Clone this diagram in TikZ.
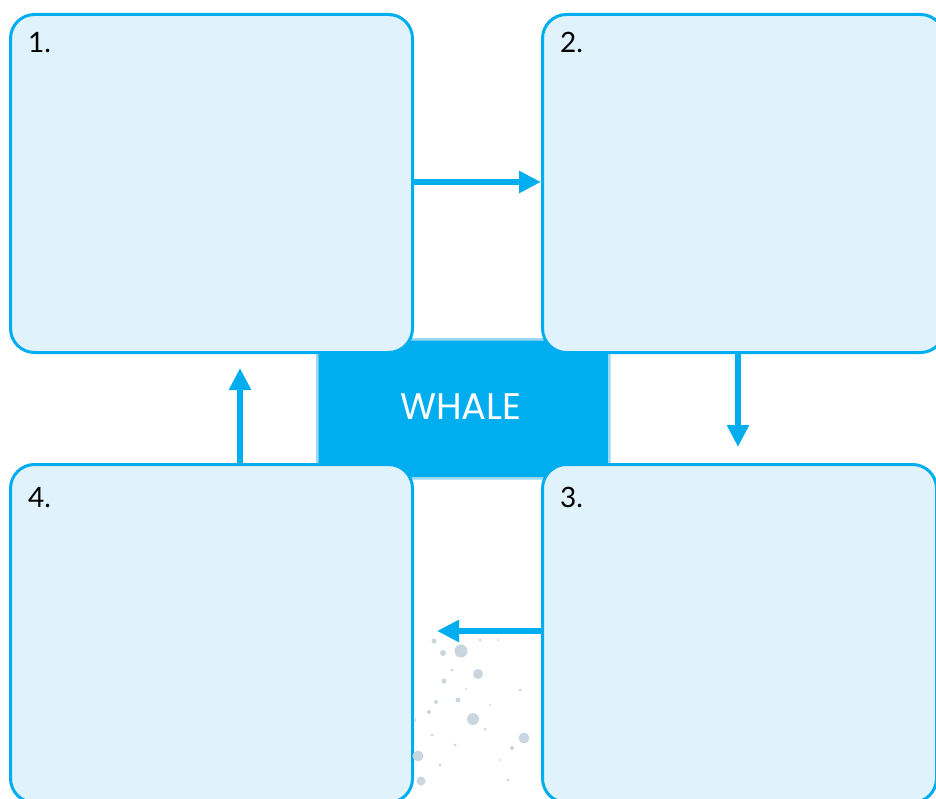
\documentclass[tikz,border=0pt]{standalone}
\usepackage{fontspec}
\setmainfont{Lato}
\newfontfamily\whalefont{Poppins}
\usetikzlibrary{arrows.meta}
\definecolor{cyanb}{HTML}{00AEEF}
\definecolor{boxfill}{HTML}{E0F2FB}
\definecolor{lightedge}{HTML}{9AD8F5}
\definecolor{splat}{HTML}{C9D6E0}
\tikzset{
  stage/.style={draw=cyanb, line width=3pt, fill=boxfill, rounded corners=24pt,
    minimum width=402pt, minimum height=338pt, inner sep=0pt, anchor=north west},
  centre/.style={draw=lightedge, line width=2.5pt, fill=cyanb, rounded corners=10pt,
    minimum width=292pt, minimum height=139pt, inner sep=0pt, anchor=north west},
  whaletext/.style={text=white, inner sep=0pt, font=\whalefont\fontsize{37}{44}\selectfont},
  num/.style={anchor=base west, inner sep=0pt, font=\fontsize{28}{32}\selectfont},
  arr/.style={draw=cyanb, line width=5.5pt, -{Triangle[length=22pt,width=21pt]}},
  dot/.style={fill=splat, draw=none}
}
\begin{document}
\begin{tikzpicture}[x=1pt,y=-1pt]
\useasboundingbox (0,0) rectangle (936,799);
\begin{scope}
\clip (0,0) rectangle (936,799);
\node[centre] (whale) at (316,338) {};
\node[whaletext] (wt) at (461,407) {WHALE};
\node[stage] (b1) at (9,13) {};
\node[stage] (b2) at (541,13) {};
\node[stage, minimum width=394pt] (b3) at (541,463) {};
\node[stage] (b4) at (9,463) {};
% splatter
\foreach \px/\py/\r in {461/651/6.5, 478/674/5, 473/719/6, 524/738/5.5, 418/756/5.5, 421/781/4.5,
  434/641/2.5, 443/653/3, 436/702/2, 458/700/2.5, 444/681/2.5, 480/640/1.5, 429/712/2,
  512/748/2, 508/780/1.5, 485/729/1.5, 455/745/1.5, 498/640/1.2, 432/735/1.5, 520/690/1.5,
  452/670/1.5, 466/689/1.2, 490/705/1.2, 440/765/1.5, 500/760/1.2, 415/720/1.5}
  \fill[dot] (\px,\py) circle (\r);
\end{scope}
\node[num] (n1) at (28,53) {1.};
\node[num] (n2) at (560,53) {2.};
\node[num] (n3) at (560,507) {3.};
\node[num] (n4) at (28,507) {4.};
\coordinate (t23) at (738,447);
\coordinate (t34) at (437,631);
\coordinate (t41) at (240,368);
\draw[arr] (b1.east |- 0,182) -- (b2.west |- 0,182);
\draw[arr] (b2.south -| t23) -- (t23);
\draw[arr] (b3.west |- t34) -- (t34);
\draw[arr] (b4.north -| t41) -- (t41);
\end{tikzpicture}
\end{document}
